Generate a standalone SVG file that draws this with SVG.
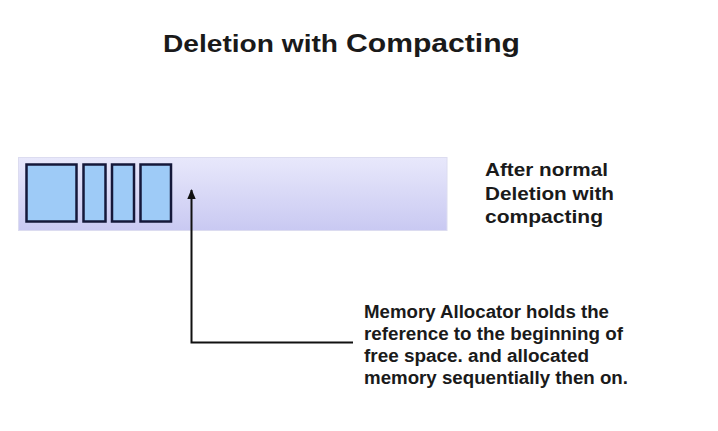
<svg xmlns="http://www.w3.org/2000/svg" width="718" height="431" viewBox="0 0 718 431">
<defs>
<linearGradient id="barg" x1="0" y1="0" x2="0" y2="1">
<stop offset="0" stop-color="#e8e8fb"/>
<stop offset="1" stop-color="#c9c9f2"/>
</linearGradient>
<marker id="ah" markerWidth="10" markerHeight="10" refX="9" refY="5" orient="auto" markerUnits="userSpaceOnUse">
<path d="M0,0.8 L10,5 L0,9.2 Z" fill="#111"/>
</marker>
<style>
text{font-family:"Liberation Sans",Arial,sans-serif;font-weight:bold;fill:#1a1a1a}
.blk{fill:#9ecbf7;stroke:#15183a;stroke-width:2.5}
.t18{font-size:18px}
.t19{font-size:19px}
</style>
</defs>
<rect width="718" height="431" fill="#ffffff"/>
<g id="title">
<text x="163" y="52" font-size="23" textLength="175" lengthAdjust="spacingAndGlyphs">Deletion with</text>
<text x="346" y="52" font-size="25" textLength="174" lengthAdjust="spacingAndGlyphs">Compacting</text>
</g>
<g id="memory-bar">
<rect x="18.5" y="157.5" width="428.5" height="73" fill="url(#barg)" stroke="#dcdcf0" stroke-width="1"/>
</g>
<g id="block1"><rect class="blk" x="26.5" y="164.5" width="50" height="57"/></g>
<g id="block2"><rect class="blk" x="83.5" y="164.5" width="22" height="57"/></g>
<g id="block3"><rect class="blk" x="112" y="164.5" width="22" height="57"/></g>
<g id="block4"><rect class="blk" x="140.5" y="164.5" width="30.5" height="57"/></g>
<g id="connectors">
<path d="M353,342.5 H191.5 V190" fill="none" stroke="#111" stroke-width="2" marker-end="url(#ah)"/>
</g>
<g id="label-after">
<text class="t19" x="485" y="176" textLength="123" lengthAdjust="spacingAndGlyphs">After normal</text>
<text class="t19" x="485" y="200" textLength="129" lengthAdjust="spacingAndGlyphs">Deletion with</text>
<text class="t19" x="485" y="223" textLength="118" lengthAdjust="spacingAndGlyphs">compacting</text>
</g>
<g id="label-allocator">
<text class="t18" x="364" y="318" textLength="245" lengthAdjust="spacingAndGlyphs">Memory Allocator holds the</text>
<text class="t18" x="364" y="340" textLength="259" lengthAdjust="spacingAndGlyphs">reference to the beginning of</text>
<text class="t18" x="364" y="362" textLength="225" lengthAdjust="spacingAndGlyphs">free space. and allocated</text>
<text class="t18" x="364" y="384" textLength="264" lengthAdjust="spacingAndGlyphs">memory sequentially then on.</text>
</g>
</svg>
